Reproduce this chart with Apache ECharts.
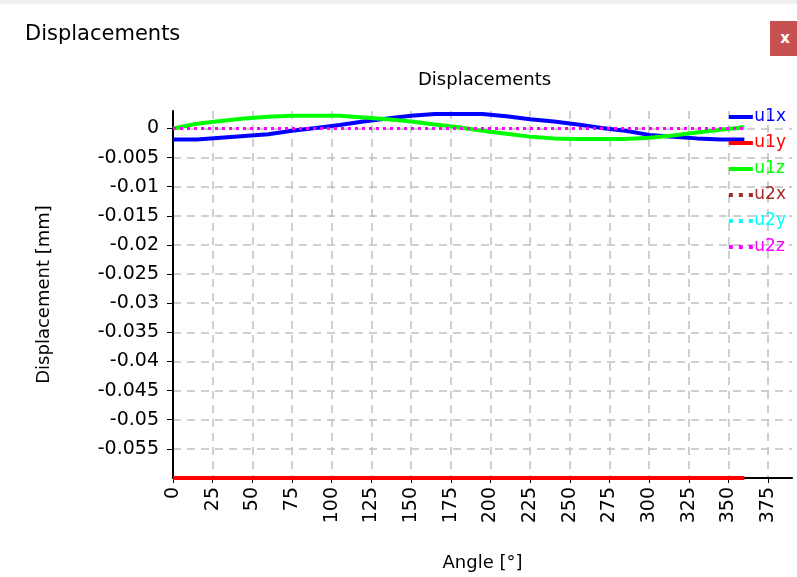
<!DOCTYPE html>
<html>
<head>
<meta charset="utf-8">
<script src="https://cdn.jsdelivr.net/npm/echarts@6/dist/echarts.min.js"></script>
<style>
  html, body { margin: 0; padding: 0; background: #fff; }
  #win { position: relative; width: 797px; height: 577px; overflow: hidden; background: #fff; }
  #topbar { position: absolute; left: 0; top: 0; width: 797px; height: 4px; background: #f0f0f0; }
  #wtitle { position: absolute; left: 25px; top: 21px; font-family: "DejaVu Sans", sans-serif; font-size: 21px; color: #000; }
  #close { position: absolute; left: 770px; top: 21px; width: 30px; height: 35px; background: #c75050; color: #fff;
           font-family: "DejaVu Sans", sans-serif; font-size: 15px; font-weight: bold; line-height: 35px; text-align: center; }
  #chart { position: absolute; left: 0; top: 0; width: 797px; height: 577px; }
</style>
</head>
<body>
<div id="win">
  <div id="topbar"></div>
  <div id="chart"></div>
  <div id="wtitle">Displacements</div>
  <div id="close">x</div>
</div>
<script>
// ---- data ----
const angles = [0, 15, 30, 45, 60, 75, 90, 105, 120, 135, 150, 165, 180, 195, 210, 225, 240, 255, 270, 285, 300, 315, 330, 345, 360];
const u1x = [-0.0019, -0.0019, -0.0016, -0.0013, -0.0010, -0.0004, 0.0001, 0.0006, 0.0012, 0.0017, 0.0022, 0.0025, 0.0025, 0.0025, 0.0021, 0.0016, 0.0012, 0.0007, 0.0001, -0.0004, -0.0011, -0.0014, -0.0017, -0.0019, -0.0019];
const u1y = [-0.06, -0.06, -0.06, -0.06, -0.06, -0.06, -0.06, -0.06, -0.06, -0.06, -0.06, -0.06, -0.06, -0.06, -0.06, -0.06, -0.06, -0.06, -0.06, -0.06, -0.06, -0.06, -0.06, -0.06, -0.06];
const u1z = [0, 0.0008, 0.0013, 0.0017, 0.0020, 0.0022, 0.0022, 0.0022, 0.0019, 0.0016, 0.0012, 0.0007, 0.0002, -0.0004, -0.0009, -0.0014, -0.0017, -0.0018, -0.0018, -0.0018, -0.0016, -0.0012, -0.0007, -0.0002, 0.0002];
const u2x = [0, 0, 0, 0, 0, 0, 0, 0, 0, 0, 0, 0, 0, 0, 0, 0, 0, 0, 0, 0, 0, 0, 0, 0, 0];
const u2y = [0, 0, 0, 0, 0, 0, 0, 0, 0, 0, 0, 0, 0, 0, 0, 0, 0, 0, 0, 0, 0, 0, 0, 0, 0];
const u2z = [0, 0, 0, 0, 0, 0, 0, 0, 0, 0, 0, 0, 0, 0, 0, 0, 0, 0, 0, 0, 0, 0, 0, 0, 0];
const seriesNames = ['u1x', 'u1y', 'u1z', 'u2x', 'u2y', 'u2z'];
const seriesData = [u1x, u1y, u1z, u2x, u2y, u2z];
const seriesColors = ['#0000ff', '#ff0000', '#00ff00', '#a52a2a', '#00ffff', '#ff00ff'];
const seriesDotted = [false, false, false, true, true, true];
const chartTitle = 'Displacements';
const xName = 'Angle [°]';
const yName = 'Displacement [mm]';

const FONT = '"DejaVu Sans", sans-serif';
const chart = echarts.init(document.getElementById('chart'), null, { renderer: 'canvas' });

const series = seriesNames.map((n, i) => ({
  name: n,
  type: 'line',
  data: angles.map((a, j) => [a, seriesData[i][j]]),
  symbol: 'none',
  z: 2 + i,
  lineStyle: { color: seriesColors[i], width: seriesDotted[i] ? 3 : 4, type: seriesDotted[i] ? [3, 4] : 'solid' },
  itemStyle: { color: seriesColors[i] },
  animation: false
}));

const SOLID_ICON = 'path://M0,0h24v4h-24z';
const DOT_ICON = 'path://M0,0h4v4h-4zM10,0h4v4h-4zM20,0h4v4h-4z';

chart.setOption({
  animation: false,
  title: {
    text: chartTitle, left: 413, top: 66,
    textStyle: { fontFamily: FONT, fontSize: 18, fontWeight: 'normal', color: '#000' }
  },
  legend: {
    orient: 'vertical', right: 6, top: 103,
    itemWidth: 25, itemHeight: 4, itemGap: 8,
    data: seriesNames.map((n, i) => ({
      name: n,
      icon: seriesDotted[i] ? DOT_ICON : SOLID_ICON,
      itemStyle: { color: seriesColors[i] },
      textStyle: { color: seriesColors[i] }
    })),
    textStyle: { fontFamily: FONT, fontSize: 17, lineHeight: 18, padding: [0, 0, 0, -4] }
  },
  grid: { left: 173, right: 5, top: 111, bottom: 98, containLabel: false },
  xAxis: {
    type: 'value', min: 0, max: 390, interval: 25,
    name: xName, nameLocation: 'middle', nameGap: 76,
    nameTextStyle: { fontFamily: FONT, fontSize: 18, color: '#000' },
    axisLine: { onZero: false, lineStyle: { color: '#000', width: 2 } },
    axisTick: { show: true, length: 5, lineStyle: { color: '#000' } },
    axisLabel: { rotate: 90, fontFamily: FONT, fontSize: 19, color: '#000', margin: 9, showMaxLabel: false },
    splitLine: { show: true, showMaxLine: false, lineStyle: { color: '#c0c0c0', type: [8, 6], width: 1.5 } }
  },
  yAxis: {
    type: 'value', min: -0.06, max: 0.003, interval: 0.005,
    name: yName, nameLocation: 'middle', nameGap: 120, nameRotate: 90,
    nameTextStyle: { fontFamily: FONT, fontSize: 18, color: '#000' },
    axisLine: { lineStyle: { color: '#000', width: 2 } },
    axisTick: { show: true, length: 6, lineStyle: { color: '#000' } },
    axisLabel: { fontFamily: FONT, fontSize: 19, color: '#000', margin: 14, showMaxLabel: false, showMinLabel: false },
    splitLine: { show: true, showMaxLine: false, showMinLine: false, lineStyle: { color: '#c0c0c0', type: [8, 6], width: 1.5 } }
  },
  series: series
});
</script>
</body>
</html>
